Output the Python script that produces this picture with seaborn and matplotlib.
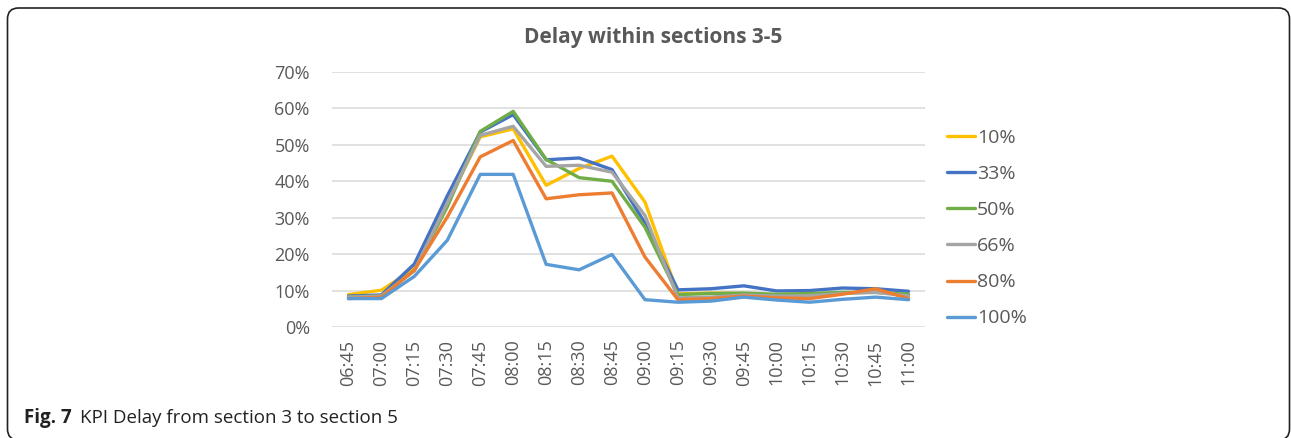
import matplotlib
matplotlib.use("Agg")
import matplotlib.pyplot as plt
from matplotlib.patches import FancyBboxPatch
from matplotlib.lines import Line2D
from matplotlib.transforms import IdentityTransform
import seaborn as sns
import pandas as pd

times = ["06:45", "07:00", "07:15", "07:30", "07:45", "08:00", "08:15", "08:30", "08:45",
         "09:00", "09:15", "09:30", "09:45", "10:00", "10:15", "10:30", "10:45", "11:00"]

s10 = [8.9, 10.1, 16.0, 34.0, 52.2, 54.4, 38.9, 43.5, 46.9, 34.3, 9.1, 9.3, 9.2, 8.5, 8.8, 9.3, 9.6, 8.8]
s33 = [8.5, 8.8, 17.3, 36.0, 53.5, 58.3, 45.9, 46.4, 43.2, 28.5, 10.2, 10.5, 11.3, 9.9, 10.0, 10.7, 10.5, 9.8]
s50 = [8.3, 8.5, 15.5, 33.0, 53.7, 59.2, 46.0, 41.0, 40.0, 27.4, 8.9, 9.2, 9.3, 9.0, 9.2, 9.5, 9.5, 9.0]
s66 = [8.2, 8.5, 15.5, 34.0, 52.6, 55.1, 44.1, 44.4, 42.5, 30.6, 8.0, 8.2, 8.8, 8.5, 8.6, 9.2, 9.5, 8.5]
s80 = [7.8, 8.2, 15.6, 30.2, 46.7, 51.2, 35.2, 36.3, 36.8, 19.2, 7.5, 7.8, 8.5, 8.0, 7.8, 9.0, 10.5, 7.8]
s100 = [7.8, 7.8, 13.9, 23.8, 41.9, 41.9, 17.2, 15.7, 19.9, 7.5, 6.8, 7.1, 8.2, 7.4, 6.8, 7.6, 8.2, 7.5]

series_names = ["10%", "33%", "50%", "66%", "80%", "100%"]
series_values = [s10, s33, s50, s66, s80, s100]
colors = ["#FFC000", "#4472C4", "#70AD47", "#A5A5A5", "#ED7D31", "#5B9BD5"]
y_ticks = [0, 10, 20, 30, 40, 50, 60, 70]
y_labels = ["0%", "10%", "20%", "30%", "40%", "50%", "60%", "70%"]

sns.set_theme(style="white")
plt.rcParams["font.family"] = ["Open Sans", "DejaVu Sans"]

rows = []
for name, vals in zip(series_names, series_values):
    for i, (t, v) in enumerate(zip(times, vals)):
        rows.append({"pos": i, "time": t, "value": v, "series": name})
df = pd.DataFrame(rows)

W, H = 1291, 438
fig = plt.figure(figsize=(W / 100, H / 100), dpi=100)
fig.patch.set_facecolor("white")

left, right, bottom, top = 332, 925, 327, 72
ax = fig.add_axes([left / W, 1 - bottom / H, (right - left) / W, (bottom - top) / H])

sns.lineplot(data=df, x="pos", y="value", hue="series", hue_order=series_names,
             palette=colors, linewidth=2.4, ax=ax, legend=False, sort=False)

ax.set_xlim(-0.5, len(times) - 0.5)
ax.set_ylim(0, 70)
ax.set_yticks(y_ticks)
ax.set_yticklabels(y_labels)
ax.set_xticks(range(len(times)))
ax.set_xticklabels(times, rotation=90)
ax.tick_params(axis="y", length=0, pad=16, labelsize=13, labelcolor="#595959")
ax.tick_params(axis="x", length=0, pad=9, labelsize=13, labelcolor="#595959")
ax.set_xlabel("")
ax.set_ylabel("")
ax.yaxis.grid(True, color="#D9D9D9", linewidth=1.1)
ax.xaxis.grid(False)
for sp in ax.spines.values():
    sp.set_visible(False)
ax.set_axisbelow(True)

handles = [Line2D([0], [0], color=c, linewidth=2.4) for c in colors]
fig.legend(handles, series_names, loc="upper left",
           bbox_to_anchor=(947 / W, 1 - 129 / H), frameon=False,
           fontsize=14, labelcolor="#595959", handlelength=1.45,
           handletextpad=0.1, labelspacing=0.93, borderaxespad=0, borderpad=0)

fig.text(653 / W, 1 - 37 / H, "Delay within sections 3-5", ha="center", va="center",
         fontsize=15, fontweight="bold", color="#595959")

fig.text(24 / W, 1 - 418 / H, "Fig. 7", ha="left", va="center",
         fontsize=13.5, fontweight="bold", color="#222222")
fig.text(80 / W, 1 - 418 / H, "KPI Delay from section 3 to section 5", ha="left",
         va="center", fontsize=13.5, color="#222222")

frame = FancyBboxPatch((7.5, -2), 1289.5 - 7.5, 430 + 2,
                       boxstyle="round,pad=0,rounding_size=11",
                       transform=IdentityTransform(), fill=False, edgecolor="#222222",
                       linewidth=1.2)
fig.patches.append(frame)

fig.savefig("out.png", dpi=100)
